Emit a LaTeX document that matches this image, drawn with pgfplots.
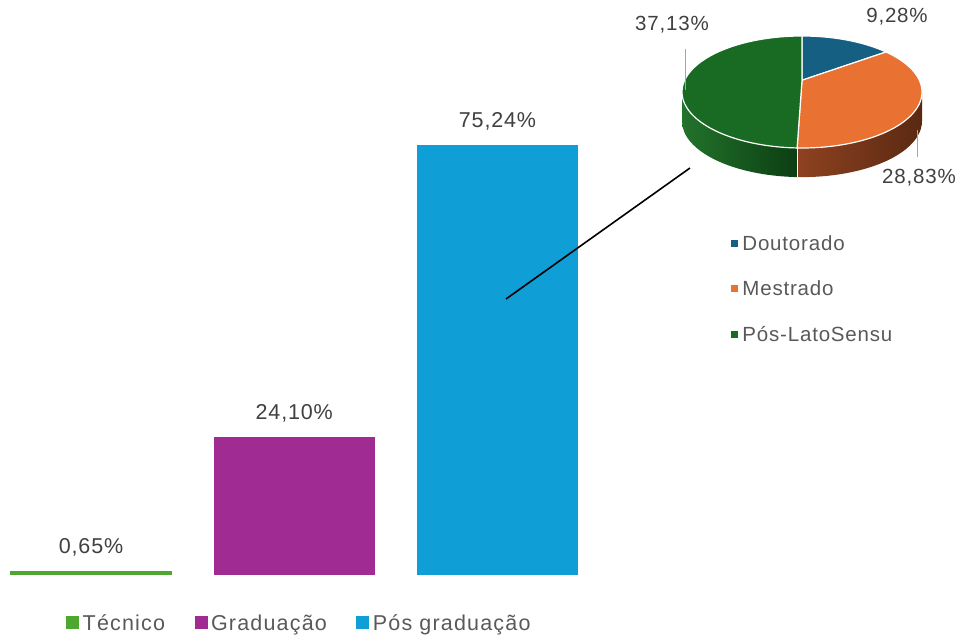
\documentclass[border=0pt]{standalone}
\usepackage{pgfplots}
\pgfplotsset{compat=1.18}
\usepackage{fontspec}
\setmainfont[LetterSpace=4]{Liberation Sans}
\newfontfamily\legfont[LetterSpace=5.5]{Liberation Sans}
\definecolor{bargreen}{HTML}{4EA72E}
\definecolor{barpurple}{HTML}{A02B93}
\definecolor{barblue}{HTML}{0F9ED5}
\definecolor{pieblue}{HTML}{156082}
\definecolor{pieorange}{HTML}{E97132}
\definecolor{piegreen}{HTML}{196B24}
\definecolor{sideG1}{HTML}{22732B}
\definecolor{sideG2}{HTML}{0C3E13}
\definecolor{sideO1}{HTML}{8E4220}
\definecolor{sideO2}{HTML}{5A2912}
\definecolor{labelgray}{HTML}{404040}
\definecolor{leggray}{HTML}{595959}
\definecolor{leadgray}{HTML}{A6A6A6}
\begin{document}
\begin{tikzpicture}[x=1pt,y=1pt]
\useasboundingbox (0,0) rectangle (955,637);
% ---------------- bar chart ----------------
\begin{axis}[
  at={(0pt,62pt)}, anchor=south west,
  scale only axis, width=600pt, height=500pt,
  xmin=-0.44772, xmax=2.50431, ymin=0, ymax=87.49,
  hide axis, clip=false,
  ybar, bar width=161pt, bar shift=0pt,
  nodes near coords={\pgfmathprintnumber[fixed,fixed zerofill,precision=2,use comma,assume math mode=true]{\pgfplotspointmeta}\%},
  every node near coord/.append style={anchor=base, yshift=18pt, font=\fontsize{21.5}{25}\selectfont, text=labelgray},
  legend columns=3,
  legend image code/.code={\fill[#1] (0pt,-6.5pt) rectangle (13pt,6.5pt);},
  legend style={draw=none, fill=none, inner sep=0pt, at={(0.11,-0.096)}, anchor=west,
    font=\legfont\fontsize{21.5}{25}\selectfont, text=leggray,
    nodes={inner xsep=3.5pt},
    /tikz/every odd column/.append style={column sep=0pt},
    /tikz/every even column/.append style={column sep=26pt}},
]
\addplot[fill=bargreen, draw=none] coordinates {(0,0.65)};
\addplot[fill=barpurple, draw=none] coordinates {(1,24.10)};
\addplot[fill=barblue, draw=none] coordinates {(2,75.24)};
\legend{Técnico, Graduação, Pós graduação}
\end{axis}
% ---------------- pie chart ----------------
% Doutorado 9.28, Mestrado 28.83, Pos-LatoSensu 37.13 (total 75.24)
% angles: D 90 -> 45.60 ; M 45.60 -> -92.34 ; L -92.34 -> -270
\begin{axis}[
  at={(802pt,545pt)}, anchor=center,
  scale only axis, width=240pt, height=112pt,
  xmin=-1, xmax=1, ymin=-1, ymax=1,
  hide axis, clip=false,
  legend image code/.code={\fill[#1] (0pt,-4pt) rectangle (8pt,4pt);},
  legend style={draw=none, fill=none, inner sep=0pt, at={(0.2,-1.259)}, anchor=west,
    font=\fontsize{20.5}{24}\selectfont, text=leggray, row sep=25pt, cells={anchor=west},
    nodes={inner xsep=3pt}},
]
% front sides
\addplot[left color=sideG1, right color=sideG2, draw=none, domain=180:267.66, samples=60, forget plot]
  ({cos(x)},{sin(x)}) -- ++(0pt,-29.12pt) arc[start angle=267.66, end angle=180, x radius=120pt, y radius=56pt] -- cycle;
\addplot[left color=sideO1, right color=sideO2, draw=none, domain=267.66:360, samples=60, forget plot]
  ({cos(x)},{sin(x)}) -- ++(0pt,-29.12pt) arc[start angle=360, end angle=267.66, x radius=120pt, y radius=56pt] -- cycle;
\addplot[white, line width=1.2pt, forget plot] coordinates {(-0.0408,-0.9992) (-0.0408,-1.5192)};
% top faces
\addplot[fill=pieblue, draw=white, line width=1.2pt, domain=45.60:90, samples=30] ({cos(x)},{sin(x)}) -- (axis cs:0,0.21) -- cycle;
\addplot[fill=pieorange, draw=white, line width=1.2pt, domain=-92.34:45.60, samples=80] ({cos(x)},{sin(x)}) -- (axis cs:0,0.21) -- cycle;
\addplot[fill=piegreen, draw=white, line width=1.2pt, domain=90:267.66, samples=90] ({cos(x)},{sin(x)}) -- (axis cs:0,0.21) -- cycle;
\legend{Doutorado, Mestrado, Pós-LatoSensu}
\end{axis}
% leader lines and pie labels
\draw[leadgray, line width=0.8pt] (685,588) -- (685,547);
\draw[leadgray, line width=0.8pt] (917,507) -- (917,480);
\node[text=labelgray, font=\fontsize{20.5}{24}\selectfont] at (672,612) {37,13\%};
\node[text=labelgray, font=\fontsize{20.5}{24}\selectfont] at (897,620) {9,28\%};
\node[text=labelgray, font=\fontsize{20.5}{24}\selectfont] at (919,459) {28,83\%};
% connector line
\draw[black, line width=1.6pt] (506,338) -- (690,469);
\end{tikzpicture}
\end{document}
